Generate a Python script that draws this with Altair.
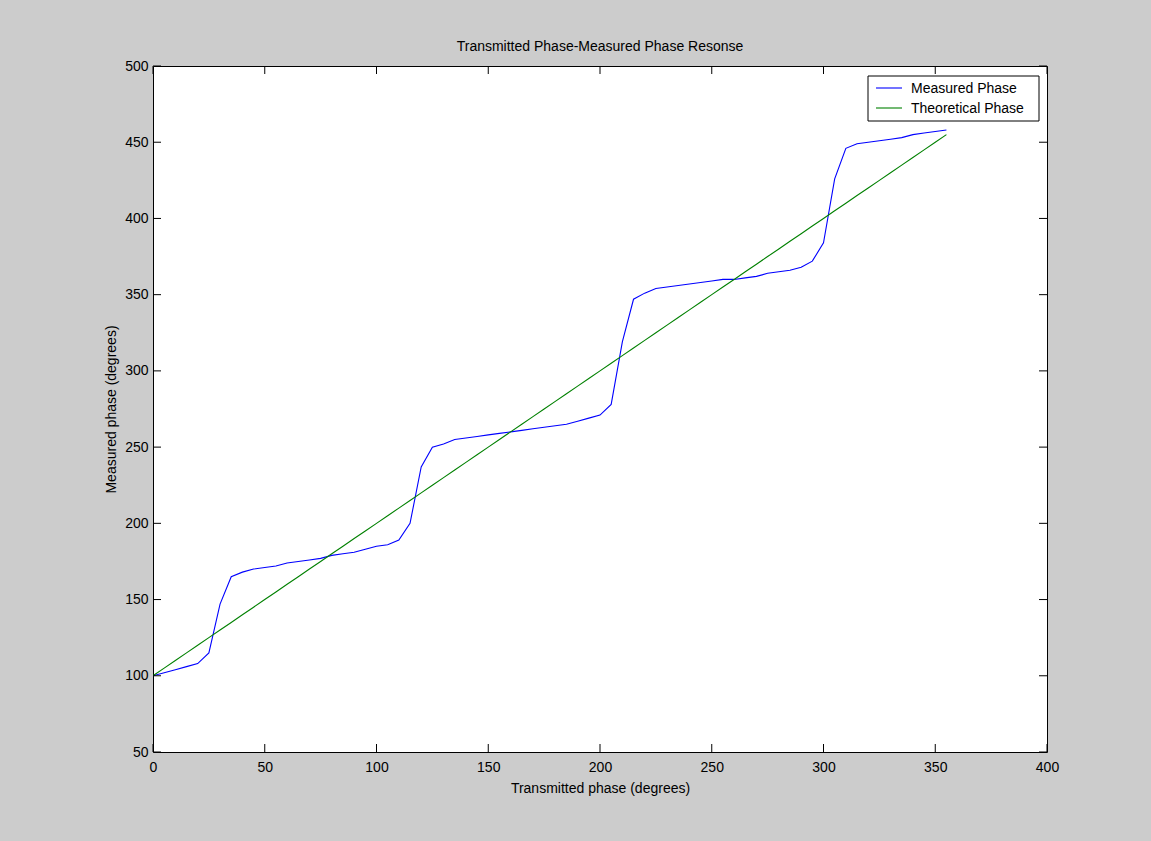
import altair as alt
import pandas as pd

# ---- text ----
title_text = "Transmitted Phase-Measured Phase Resonse"
x_title = "Transmitted phase (degrees)"
y_title = "Measured phase (degrees)"
series_names = ["Measured Phase", "Theoretical Phase"]
series_colors = ["#0000ff", "#008000"]

# ---- data ----
transmitted = [0, 5, 10, 15, 20, 25, 30, 35, 40, 45, 50, 55, 60, 65, 70, 75, 80, 85,
               90, 95, 100, 105, 110, 115, 120, 125, 130, 135, 140, 145, 150, 155,
               160, 165, 170, 175, 180, 185, 190, 195, 200, 205, 210, 215, 220, 225,
               230, 235, 240, 245, 250, 255, 260, 265, 270, 275, 280, 285, 290, 295,
               300, 305, 310, 315, 320, 325, 330, 335, 340, 345, 350, 355]
measured = [100, 102, 104, 106, 108, 115, 147, 165, 168, 170, 171, 172, 174, 175, 176,
            177, 179, 180, 181, 183, 185, 186, 189, 200, 237, 250, 252, 255, 256, 257,
            258, 259, 260, 261, 262, 263, 264, 265, 267, 269, 271, 278, 319, 347, 351,
            354, 355, 356, 357, 358, 359, 360, 360, 361, 362, 364, 365, 366, 368, 372,
            384, 426, 446, 449, 450, 451, 452, 453, 455, 456, 457, 458]
theoretical = [100, 105, 110, 115, 120, 125, 130, 135, 140, 145, 150, 155, 160, 165,
               170, 175, 180, 185, 190, 195, 200, 205, 210, 215, 220, 225, 230, 235,
               240, 245, 250, 255, 260, 265, 270, 275, 280, 285, 290, 295, 300, 305,
               310, 315, 320, 325, 330, 335, 340, 345, 350, 355, 360, 365, 370, 375,
               380, 385, 390, 395, 400, 405, 410, 415, 420, 425, 430, 435, 440, 445,
               450, 455]
x_ticks = [0, 50, 100, 150, 200, 250, 300, 350, 400]
y_ticks = [50, 100, 150, 200, 250, 300, 350, 400, 450, 500]

FONT = "Liberation Sans, Arial, Helvetica, sans-serif"
W, H = 894, 686
TICK = 8

df = pd.DataFrame({
    "transmitted": transmitted + transmitted,
    "phase": measured + theoretical,
    "series": [series_names[0]] * len(measured) + [series_names[1]] * len(theoretical),
})

x_scale = alt.Scale(domain=[0, 400], nice=False, zero=False)
y_scale = alt.Scale(domain=[50, 500], nice=False, zero=False)
x_axis = alt.Axis(values=x_ticks, title=x_title, labelPadding=8, titlePadding=7,
                  labelFlush=False, labelOverlap=False, format="d")
y_axis = alt.Axis(values=y_ticks, title=y_title, labelPadding=5, titlePadding=6,
                  labelFlush=False, labelOverlap=False, format="d")

lines = alt.Chart(df).mark_line(strokeWidth=1.1, clip=True).encode(
    x=alt.X("transmitted:Q", scale=x_scale, axis=x_axis, title=x_title),
    y=alt.Y("phase:Q", scale=y_scale, axis=y_axis, title=y_title),
    color=alt.Color("series:N", scale=alt.Scale(domain=series_names, range=series_colors),
                    legend=None),
)

xt = pd.DataFrame({"transmitted": x_ticks})
yt = pd.DataFrame({"phase": y_ticks})
bottom_ticks = alt.Chart(xt).mark_rule(color="black", strokeWidth=1).encode(
    x=alt.X("transmitted:Q", scale=x_scale, axis=x_axis, title=x_title),
    y=alt.value(H), y2=alt.value(H - TICK))
top_ticks = alt.Chart(xt).mark_rule(color="black", strokeWidth=1).encode(
    x=alt.X("transmitted:Q", scale=x_scale, axis=x_axis, title=x_title),
    y=alt.value(0), y2=alt.value(TICK))
left_ticks = alt.Chart(yt).mark_rule(color="black", strokeWidth=1).encode(
    y=alt.Y("phase:Q", scale=y_scale, axis=y_axis, title=y_title),
    x=alt.value(0), x2=alt.value(TICK))
right_ticks = alt.Chart(yt).mark_rule(color="black", strokeWidth=1).encode(
    y=alt.Y("phase:Q", scale=y_scale, axis=y_axis, title=y_title),
    x=alt.value(W), x2=alt.value(W - TICK))

# ---- legend box drawn inside the plot ----
legend_box = alt.Chart(pd.DataFrame({"series": series_names[:1]})).mark_rect(
    fill="white", stroke="black", strokeWidth=1).encode(
    x=alt.value(715), x2=alt.value(886), y=alt.value(10), y2=alt.value(55))

legend_layers = [legend_box]
for i, (name, col) in enumerate(zip(series_names, series_colors)):
    d = pd.DataFrame({"series": [name]})
    legend_layers.append(
        alt.Chart(d).mark_rule(color=col, strokeWidth=1.1).encode(
            x=alt.value(723), x2=alt.value(749), y=alt.value(22 + 20 * i)))
    legend_layers.append(
        alt.Chart(d).mark_text(align="left", baseline="middle", font=FONT, fontSize=14,
                               color="black").encode(
            x=alt.value(758), y=alt.value(23 + 20 * i), text="series:N"))

chart = alt.layer(
    lines, bottom_ticks, top_ticks, left_ticks, right_ticks, *legend_layers
).properties(
    width=W,
    height=H,
    padding={"left": 153, "top": 66, "right": 104, "bottom": 89},
    autosize=alt.AutoSizeParams(type="none"),
    title=alt.TitleParams(text=title_text, font=FONT, fontSize=14, fontWeight="normal",
                          color="black", anchor="middle", frame="group", offset=5),
).configure(
    background="#cccccc",
).configure_view(
    fill="white", stroke="black", strokeWidth=1,
).configure_axis(
    labelFont=FONT, labelFontSize=14, labelColor="black",
    titleFont=FONT, titleFontSize=14, titleFontWeight="normal", titleColor="black",
    ticks=False, tickSize=0, domain=False, grid=False,
)

chart.save("out.html", embed_options={"renderer": "svg", "actions": False})
